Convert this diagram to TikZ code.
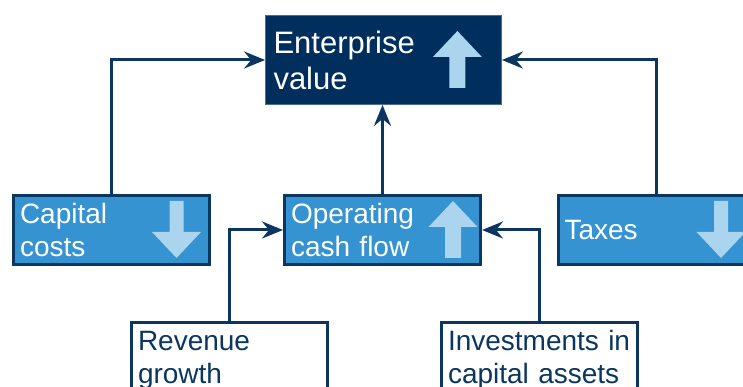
\documentclass[tikz,border=0pt]{standalone}
\usepackage{fontspec}
\setmainfont{Liberation Sans}
\usetikzlibrary{arrows.meta,positioning,calc}
\definecolor{navy}{HTML}{002E5D}
\definecolor{midblue}{HTML}{3593D2}
\definecolor{paleblue}{HTML}{ABD4EE}
\definecolor{linenavy}{HTML}{0B365F}
\tikzset{
  valuebox/.style={fill=navy,draw=navy!70!white,line width=0.8pt,minimum width=236pt,minimum height=89pt,inner xsep=8pt,text width=220pt,align=left,text=white,font=\fontsize{31}{36}\selectfont},
  driverbox/.style={fill=midblue,draw=linenavy,line width=3pt,minimum width=196pt,minimum height=69pt,inner xsep=6.5pt,text width=183pt,align=left,text=white,font=\fontsize{28}{33}\selectfont},
  inputbox/.style={driverbox,fill=white,text=linenavy},
  link/.style={draw=linenavy,line width=3pt,-{Stealth[length=21pt,width=17pt,inset=7pt]}},
  uparrow/.pic={\fill[paleblue] (-8,-28.5) -- (-8,2.5) -- (-24.5,2.5) -- (0,28.5) -- (24.5,2.5) -- (8,2.5) -- (8,-28.5) -- cycle;},
  downarrow/.pic={\fill[paleblue] (-7,28.5) -- (-7,-2.5) -- (-24.5,-2.5) -- (0,-28.5) -- (24.5,-2.5) -- (7,-2.5) -- (7,28.5) -- cycle;}
}
\begin{document}
\begin{tikzpicture}[x=1pt,y=1pt]
\useasboundingbox (0,0) rectangle (743,387);
\clip (0,0) rectangle (743,387);
\node[valuebox] (ev) at (383.5,327) {Enterprise\\value};
\node[driverbox] (cap) at (111.5,157) {Capital\\costs};
\node[driverbox] (ocf) at (382.5,157) {Operating\\cash flow};
\node[driverbox] (tax) at (656,157) {Taxes};
\node[inputbox,minimum height=75pt] (rev) at (229.5,27) {Revenue\\growth};
\node[inputbox,minimum height=75pt] (inv) at (539.5,27) {Investments in\\capital assets};
\pic at ($(ev.east)+(-44.5,0.5)$) {uparrow};
\pic at ($(ocf.east)+(-29,0.5)$) {uparrow};
\pic at ($(cap.east)+(-34.5,0.5)$) {downarrow};
\pic at ($(tax.east)+(-34.5,0.5)$) {downarrow};
\draw[link] (cap.north) |- (ev.west);
\draw[link] (tax.north) |- (ev.east);
\draw[link] (ocf.north) -- (ev.south -| ocf.north);
\draw[link] (rev.north) |- (ocf.west);
\draw[link] (inv.north) |- (ocf.east);
\end{tikzpicture}
\end{document}
